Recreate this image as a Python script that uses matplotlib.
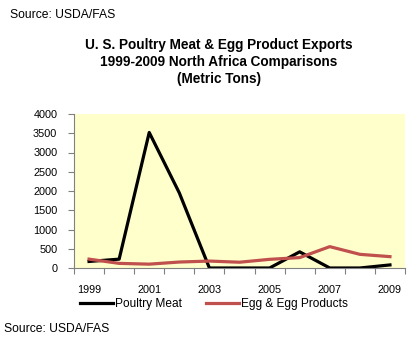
import numpy as np
import matplotlib
matplotlib.use('Agg')
import matplotlib.pyplot as plt

plt.rcParams['font.family'] = ['Liberation Sans', 'DejaVu Sans']

years = [1999, 2000, 2001, 2002, 2003, 2004, 2005, 2006, 2007, 2008, 2009]
poultry_meat = [170, 230, 3520, 1950, 0, 0, 0, 420, 0, 0, 80]
egg_products = [230, 120, 100, 155, 180, 150, 225, 270, 555, 355, 295]
year_labels = ['1999', '2001', '2003', '2005', '2007', '2009']
y_ticks = [0, 500, 1000, 1500, 2000, 2500, 3000, 3500, 4000]

fig = plt.figure(figsize=(4.11, 3.47), dpi=100)
ax = fig.add_axes([74 / 411, 1 - 268 / 347, 331 / 411, 154 / 347])
ax.set_facecolor('#FFFFCC')

x = np.arange(len(years))
ax.plot(x, poultry_meat, color='black', lw=2.3, label='Poultry Meat', solid_joinstyle='round')
ax.plot(x, egg_products, color='#C0504D', lw=2.3, label='Egg & Egg Products', solid_joinstyle='round')

ax.set_xlim(-0.5, len(years) - 0.5)
ax.set_ylim(0, 4000)
ax.set_yticks(y_ticks)
ax.set_yticklabels([str(v) for v in y_ticks], fontsize=7.8)

# category boundaries get tick marks, every other year gets a label
ax.set_xticks(np.arange(-0.5, len(years)), minor=True)
ax.set_xticks(x[::2])
ax.set_xticklabels(year_labels, fontsize=7.8)
ax.tick_params(axis='x', which='major', length=0, pad=12)
ax.tick_params(axis='x', which='minor', length=4, color='#808080', width=0.8)
ax.tick_params(axis='y', length=4, color='#808080', width=0.8, pad=8)

for side in ['top', 'right']:
    ax.spines[side].set_visible(False)
for side in ['left', 'bottom']:
    ax.spines[side].set_color('#808080')
    ax.spines[side].set_linewidth(0.8)

fig.legend(loc='center', bbox_to_anchor=(214 / 411, 1 - 304 / 347), ncol=2,
           frameon=False, fontsize=8.6, handlelength=2.8, handletextpad=0.15,
           columnspacing=2.0, borderaxespad=0)

title_x = 219 / 411
fig.text(title_x, 1 - 45 / 347, 'U. S. Poultry Meat & Egg Product Exports',
         ha='center', va='center', fontsize=9.8, fontweight='bold')
fig.text(title_x, 1 - 62 / 347, '1999-2009 North Africa Comparisons',
         ha='center', va='center', fontsize=9.8, fontweight='bold')
fig.text(title_x, 1 - 79 / 347, '(Metric Tons)',
         ha='center', va='center', fontsize=9.8, fontweight='bold')

fig.text(10 / 411, 1 - 15 / 347, 'Source: USDA/FAS', ha='left', va='center', fontsize=8.7)
fig.text(4 / 411, 1 - 329 / 347, 'Source: USDA/FAS', ha='left', va='center', fontsize=8.7)

fig.savefig('out.png', dpi=100)
